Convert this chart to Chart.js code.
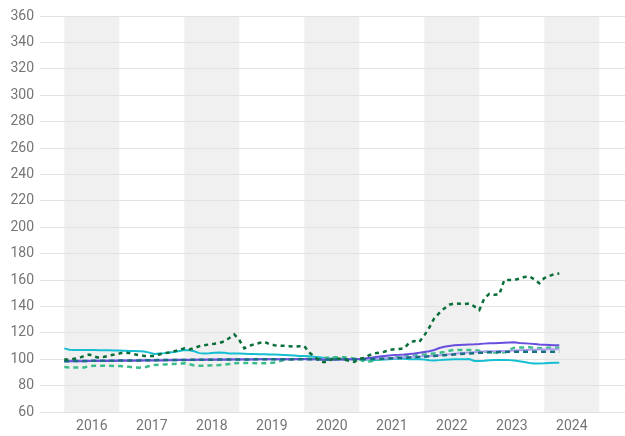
<!DOCTYPE html>
<html>
<head>
<meta charset="utf-8">
<script src="https://cdn.jsdelivr.net/npm/chart.js@4"></script>
<style>
  html, body { margin: 0; padding: 0; background: #fff; }
  #wrap { width: 625px; height: 436px; position: relative; }
</style>
</head>
<body>
<div id="wrap"><canvas id="chart"></canvas></div>
<script>
// monthly index series, Jan 2016 .. Apr 2024
const years = ['2016', '2017', '2018', '2019', '2020', '2021', '2022', '2023', '2024'];
const yTicks = [60, 80, 100, 120, 140, 160, 180, 200, 220, 240, 260, 280, 300, 320, 340, 360];

const darkGreen = [
  100, 99.5, 100.3, 101, 102.5, 103.5, 102, 101, 101.8, 102.8, 103.5, 104.3,
  105.2, 104.6, 103.8, 103, 102.5, 102.4, 102.4, 103.6, 104.6, 105, 106, 107,
  108.2, 107.3, 108.5, 109.8, 110.5, 111.2, 111.7, 112.3, 113.5, 116, 118.8, 114.5,
  108.3, 110.2, 111.3, 112.3, 113.3, 111.5, 110.6, 110.2, 110.1, 109.9, 109.6, 109.8,
  110, 105, 102, 98.5, 97.8, 99, 100.7, 100.3, 99.8, 98.8, 98, 100.3,
  101, 103, 104.4, 105, 105.7, 107, 107.5, 107.7, 108.3, 112.5, 113.8, 113,
  118, 124, 131, 135, 138.5, 141.3, 142.3, 142, 141.8, 142.3, 140, 137.3,
  146, 149.5, 148.8, 149, 160, 160, 160, 161, 162.3, 162.8, 160.5, 157.5,
  161.5, 163, 164.5, 165
];

const purple = [
  98.4, 98.4, 98.5, 98.5, 98.5, 98.6, 98.6, 98.6, 98.7, 98.7, 98.7, 98.8,
  98.8, 98.8, 98.9, 98.9, 99, 99, 99, 99.1, 99.1, 99.2, 99.2, 99.3,
  99.3, 99.4, 99.4, 99.5, 99.5, 99.5, 99.6, 99.6, 99.6, 99.7, 99.7, 99.7,
  99.8, 99.8, 99.8, 99.9, 99.9, 99.9, 100, 100, 100, 100, 100, 100.1,
  100.1, 100, 99.9, 99.8, 99.6, 99.5, 99.6, 99.7, 99.8, 99.9, 100, 100.2,
  100.5, 101, 101.5, 102, 102.4, 102.8, 103.1, 103.3, 103.6, 104, 104.4, 104.9,
  105.5, 106, 107, 108.5, 109.5, 110, 110.5, 110.8, 111, 111.2, 111.3, 111.5,
  111.8, 112, 112.1, 112.3, 112.5, 112.7, 112.8, 112.3, 112, 111.8, 111.5, 111.2,
  111, 110.8, 110.6, 110.5
];

const lightPurple = [
  99, 99, 99, 99.1, 99.1, 99.1, 99.2, 99.2, 99.2, 99.3, 99.3, 99.3,
  99.4, 99.4, 99.4, 99.5, 99.5, 99.5, 99.5, 99.6, 99.6, 99.6, 99.7, 99.7,
  99.7, 99.8, 99.8, 99.8, 99.8, 99.9, 99.9, 99.9, 99.9, 100, 100, 100,
  100, 100, 100, 100, 100, 100, 100, 100, 100, 100, 100, 100,
  100, 100, 100, 99.9, 99.8, 99.8, 99.9, 100, 100, 100, 100, 100.1,
  100.2, 100.4, 100.5, 100.6, 100.7, 100.8, 101, 101.2, 101.4, 101.6, 101.8, 102,
  102.3, 102.5, 102.7, 103, 103.3, 103.7, 104.1, 104.5, 104.8, 105, 105.3, 105.6,
  105.8, 106, 106.1, 106.2, 106.3, 106.4, 106.6, 106.8, 107, 107.1, 107.2, 107.3,
  107.4, 107.5, 107.6, 107.6
];

const tealDashed = [
  98.5, 98.5, 98.6, 98.6, 98.7, 98.7, 98.8, 98.8, 98.8, 98.9, 98.9, 99,
  99, 99, 99.1, 99.1, 99.2, 99.2, 99.2, 99.3, 99.3, 99.3, 99.4, 99.4,
  99.4, 99.5, 99.5, 99.5, 99.6, 99.6, 99.6, 99.7, 99.7, 99.7, 99.8, 99.8,
  99.8, 99.8, 99.9, 99.9, 99.9, 99.9, 100, 100, 100, 100, 100, 100,
  100, 100, 100, 99.9, 99.8, 99.8, 99.9, 100, 100, 100, 100, 100,
  100, 100.1, 100.2, 100.3, 100.4, 100.5, 100.7, 100.9, 101.1, 101.3, 101.5, 101.7,
  101.9, 102.2, 102.5, 102.8, 103, 103.3, 103.6, 103.9, 104.2, 104.4, 104.6, 104.8,
  105, 105.2, 105.3, 105.4, 105.5, 105.6, 105.7, 105.7, 105.7, 105.7, 105.7, 105.7,
  105.7, 105.7, 105.7, 105.7
];

const cyan = [
  108.2, 107.2, 107, 107, 107, 107, 107, 106.8, 106.8, 106.7, 106.6, 106.5,
  106.4, 106.3, 106.2, 106, 105.8, 105, 104, 104.3, 104.6, 105, 105.5, 106.2,
  107, 106.8, 106, 104.6, 104.4, 104.6, 104.9, 105, 104.8, 104.4, 104.4, 104.4,
  104.2, 104, 103.9, 103.8, 103.7, 103.6, 103.5, 103.4, 103.2, 103, 102.8, 102.5,
  102.4, 102.3, 101.8, 101.4, 101, 100.7, 100.5, 100.2, 99.9, 99.9, 99.9, 99.9,
  99.7, 99.5, 99.4, 99.6, 99.8, 100, 100.3, 100.5, 100.3, 100, 99.9, 99.9,
  99.7, 99.2, 99, 99.3, 99.6, 99.8, 99.9, 100, 100, 100.1, 98.6, 98.6,
  98.8, 99.2, 99.4, 99.4, 99.4, 99.3, 99, 98.4, 97.8, 97.2, 96.8, 96.8,
  96.9, 97.1, 97.3, 97.3
];

const greenDashed = [
  94, 93.8, 93.7, 93.6, 93.8, 94.8, 95, 95, 95, 95, 94.9, 94.8,
  94.6, 94.2, 93.8, 93.6, 93.7, 94.8, 95.6, 95.8, 96, 96.2, 96.4, 96.6,
  96.9, 96.2, 95.2, 95.1, 95.1, 95.2, 95.4, 95.6, 95.9, 96.4, 96.9, 97.1,
  97.2, 97.1, 97, 96.9, 96.9, 97, 97.5, 98.5, 99.4, 99.8, 100, 100.1,
  100.2, 100.3, 100.4, 100.6, 101, 101.3, 101.4, 101.4, 101.4, 101.2, 100.5, 99.9,
  98.3, 98.2, 99, 99.8, 100.3, 100.7, 101.2, 101.6, 102, 102.4, 102.8, 103.2,
  103.6, 104, 104.4, 104.8, 105.4, 106.4, 107, 107, 107, 107, 107, 106.4,
  105.8, 105.4, 105, 104.9, 105.2, 107, 108.7, 108.8, 108.9, 109, 108.6, 108.3,
  108.4, 108.6, 108.7, 108.7
];

function pts(values) {
    return values.map((v, i) => ({ x: i, y: v }));
}

// grey background band for every other year (Jan..Dec points)
const yearBands = {
    id: 'yearBands',
    beforeDraw(chart) {
        const { ctx, chartArea, scales } = chart;
        ctx.save();
        ctx.fillStyle = '#f0f0f0';
        years.forEach((y, k) => {
            if (k % 2 !== 0) return;
            const x0 = scales.x.getPixelForValue(k * 12);
            const x1 = scales.x.getPixelForValue(k * 12 + 11);
            ctx.fillRect(x0, chartArea.top, x1 - x0, chartArea.bottom - chartArea.top);
        });
        ctx.restore();
    },
};

function line(data, color, width, dash) {
    return {
        data: pts(data),
        borderColor: color,
        borderWidth: width,
        borderDash: dash || [],
        pointRadius: 0,
        tension: 0,
        fill: false,
    };
}

new Chart(document.getElementById('chart'), {
    type: 'line',
    data: {
        datasets: [
            line(darkGreen, '#0a6e3a', 2.5, [4, 4]),
            line(tealDashed, '#16707f', 2.5, [5, 4]),
            line(purple, '#6a4fde', 2),
            line(lightPurple, '#ae9ff1', 2),
            line(greenDashed, '#3dbd8b', 2.5, [5, 4]),
            line(cyan, '#15bfd1', 2),
        ],
    },
    options: {
        responsive: true,
        maintainAspectRatio: false,
        animation: false,
        layout: { padding: { top: 16, right: 0, left: 0, bottom: 0 } },
        plugins: {
            legend: { display: false },
            tooltip: { enabled: false },
        },
        scales: {
            x: {
                type: 'linear',
                min: -4.86,
                max: 112.14,
                grid: { display: false, drawTicks: false },
                border: { display: false },
                afterBuildTicks: s => {
                    s.ticks = years.map((y, k) => ({ value: k * 12 + 5.5 }));
                },
                afterFit: s => { s.height = 24; },
                ticks: {
                    color: '#757575',
                    font: { family: 'Roboto', size: 14 },
                    padding: 6,
                    maxRotation: 0,
                    autoSkip: false,
                    callback: v => years[Math.round((v - 5.5) / 12)] || '',
                },
            },
            y: {
                min: 60,
                max: 360,
                grid: { color: '#e2e2e2', drawTicks: false },
                border: { display: false },
                afterBuildTicks: s => {
                    s.ticks = yTicks.map(v => ({ value: v }));
                },
                afterFit: s => { s.width = 40; },
                ticks: {
                    color: '#757575',
                    font: { family: 'Roboto', size: 14 },
                    padding: 6,
                },
            },
        },
    },
    plugins: [yearBands],
});
</script>
</body>
</html>
